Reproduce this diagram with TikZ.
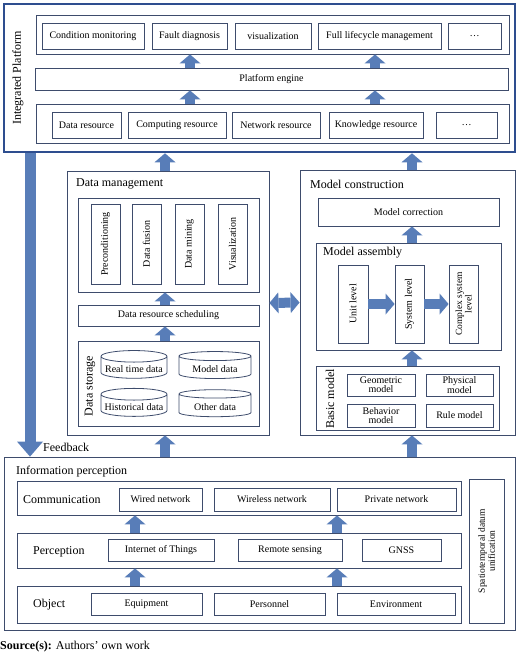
\documentclass[tikz,border=0pt]{standalone}
\usepackage{fontspec}
\setmainfont{Liberation Serif}
\usetikzlibrary{arrows.meta,shapes.geometric}
\definecolor{framec}{RGB}{46,78,143}
\definecolor{linec}{RGB}{62,76,108}
\definecolor{arrowc}{RGB}{88,125,184}
\tikzset{
	cellbox/.style={draw=linec, line width=0.8pt, inner sep=1pt, align=center, font=\fontsize{10}{12}\selectfont},
	headtext/.style={inner sep=0pt, anchor=west, font=\fontsize{12}{14}\selectfont},
	sidetext/.style={inner sep=0pt, rotate=90, font=\fontsize{12}{14}\selectfont},
	fatarrow/.style={draw=arrowc, line width=10pt, -{Triangle[width=21pt,length=9pt,line width=0pt]}},
	fatboth/.style={draw=arrowc, line width=10pt, {Triangle[width=21pt,length=9pt,line width=0pt]}-{Triangle[width=21pt,length=9pt,line width=0pt]}},
	datacyl/.style={cylinder, shape border rotate=90, aspect=0.2, draw=linec, line width=0.8pt, inner sep=0pt, text height=10pt, text depth=0pt, font=\fontsize{10}{12}\selectfont}
}
\def\cellat[#1](#2)(#3,#4)(#5,#6)#7{\node[cellbox,#1,minimum width={#5-#3},minimum height={#6-#4}] (#2) at ({(#3+#5)/2},{(#4+#6)/2}) {#7};}
\def\vcellat[#1](#2)(#3,#4)(#5,#6)#7{\node[cellbox,#1,rotate=90,minimum width={#6-#4},minimum height={#5-#3}] (#2) at ({(#3+#5)/2},{(#4+#6)/2}) {#7};}

\begin{document}
\begin{tikzpicture}[x=1pt, y=-1pt]
	%%%%% START %%%%%
	\useasboundingbox (0,0) rectangle (520,656);
	
	% integrated platform
	\cellat[draw=framec, line width=2.6pt](ip)(4,4)(515,152){}
	\node[sidetext] at (18,78) {Integrated Platform};
	\cellat[](app)(36,15)(509,54){}
	\cellat[](cm)(42,23)(144,49){Condition monitoring}
	\cellat[](fd)(152,23)(227,49){Fault diagnosis}
	\cellat[](vis)(235,23)(311,49){visualization}
	\cellat[](flm)(318,23)(441,49){Full lifecycle management}
	\cellat[](more1)(448,23)(501,49){\dots}
	\cellat[](eng)(35,68)(508,90){Platform engine}
	\cellat[](res)(36,104)(509,143){}
	\cellat[](dres)(52,112)(121,138){Data resource}
	\cellat[](cres)(128,112)(226,138){Computing resource}
	\cellat[](nres)(232,112)(320,138){Network resource}
	\cellat[](kres)(329,112)(423,138){Knowledge resource}
	\cellat[](more2)(436,112)(497,138){\dots}
	
	\draw[fatarrow] (eng.north -| 190,0) -- (app.south -| 190,0);
	\draw[fatarrow] (eng.north -| 375,0) -- (app.south -| 375,0);
	\draw[fatarrow] (res.north -| 190,0) -- (eng.south -| 190,0);
	\draw[fatarrow] (res.north -| 375,0) -- (eng.south -| 375,0);
	
	% data management
	\cellat[](dm)(67,171)(269,435){}
	\node[headtext] at (76,184) {Data management};
	\cellat[](proc)(78,198)(259,292){}
	\vcellat[](pre)(91,204)(120,284){Preconditioning}
	\vcellat[](fus)(132,204)(161,284){Data fusion}
	\vcellat[](mine)(175,204)(204,284){Data mining}
	\vcellat[](dvis)(218,204)(247,284){Visualization}
	\cellat[](sched)(78,305)(259,326){Data resource scheduling}
	\cellat[](store)(78,341)(259,426){}
	\node[sidetext] at (90,386) {Data storage};
	\node[datacyl, minimum width=66, minimum height=27] (rtd) at (134,367.5) {Real time data};
	\node[datacyl, minimum width=72, minimum height=27] (md) at (215,367.5) {Model data};
	\node[datacyl, minimum width=66, minimum height=27] (hd) at (134,405.5) {Historical data};
	\node[datacyl, minimum width=72, minimum height=27] (od) at (215,405.5) {Other data};
	
	\draw[fatarrow] (sched.north -| 165,0) -- (proc.south -| 165,0);
	\draw[fatarrow] (store.north -| 165,0) -- (sched.south -| 165,0);
	
	% model construction
	\cellat[](mc)(300,170)(515,435){}
	\node[headtext] at (310,184) {Model construction};
	\cellat[](corr)(318,198)(499,226){Model correction}
	\cellat[](asm)(316,243)(501,350){}
	\node[headtext] at (323,253) {Model assembly};
	\vcellat[](unit)(338,265)(368,343){Unit level}
	\vcellat[](sys)(395,265)(424,343){System level}
	\vcellat[font=\fontsize{9.5}{9.5}\selectfont](csys)(449,265)(478,343){Complex system\\level}
	\cellat[](basic)(316,366)(499,430){}
	\node[sidetext] at (330,399) {Basic model};
	\cellat[font=\fontsize{10}{9}\selectfont](geo)(347,374)(415,396){Geometric\\model}
	\cellat[font=\fontsize{10}{9}\selectfont](phy)(426,374)(493,396){Physical\\model}
	\cellat[font=\fontsize{10}{9}\selectfont](beh)(347,404)(415,427){Behavior\\model}
	\cellat[](rule)(426,404)(493,427){Rule model}
	
	\draw[fatarrow] (unit.south) -- (sys.north);
	\draw[fatarrow] (sys.south) -- (csys.north);
	\draw[fatarrow] (asm.north -| 412,0) -- (corr.south -| 412,0);
	\draw[fatarrow] (basic.north -| 412,0) -- (asm.south -| 412,0);
	
	\draw[fatboth] (dm.east) -- (mc.west);
	\draw[fatarrow] (dm.north -| 165,0) -- (ip.south -| 165,0);
	\draw[fatarrow] (mc.north -| 412,0) -- (ip.south -| 412,0);
	
	% information perception
	\cellat[](info)(4,457)(515,630){}
	\node[headtext] at (16,472) {Information perception};
	\cellat[](comm)(17,481)(461,515){}
	\node[headtext] at (23,500) {Communication};
	\cellat[](wired)(119,488)(202,511){Wired network}
	\cellat[](wless)(214,488)(330,511){Wireless network}
	\cellat[](priv)(337,488)(456,511){Private network}
	\cellat[](perc)(17,533)(461,568){}
	\node[headtext] at (33,552) {Perception};
	\cellat[](iot)(108,539)(214,561){Internet of Things}
	\cellat[](rs)(238,539)(342,561){Remote sensing}
	\cellat[](gnss)(362,539)(441,561){GNSS}
	\cellat[](obj)(17,586)(461,623){}
	\node[headtext] at (33,605) {Object};
	\cellat[](equ)(91,593)(202,615){Equipment}
	\cellat[](pers)(214,593)(325,615){Personnel}
	\cellat[](env)(337,593)(455,615){Environment}
	\vcellat[font=\fontsize{9.5}{10}\selectfont](stdu)(469,479)(504,623){Spatiotemporal datum\\unification}
	
	\draw[fatarrow] (perc.north -| 135,0) -- (comm.south -| 135,0);
	\draw[fatarrow] (perc.north -| 337,0) -- (comm.south -| 337,0);
	\draw[fatarrow] (obj.north -| 135,0) -- (perc.south -| 135,0);
	\draw[fatarrow] (obj.north -| 337,0) -- (perc.south -| 337,0);
	\draw[fatarrow] (info.north -| 165,0) -- (dm.south -| 165,0);
	\draw[fatarrow] (info.north -| 412,0) -- (mc.south -| 412,0);
	
	% feedback
	\draw[draw=arrowc, line width=11pt, -{Triangle[width=26pt,length=15pt,line width=0pt]}] (ip.south -| 30,0) -- (info.north -| 30,0);
	\node[headtext] at (43,447) {Feedback};
	
	\node[headtext] at (0,647) {\textbf{Source(s):} Authors’ own work};
	%%%%% END %%%%%
\end{tikzpicture}
\end{document}
